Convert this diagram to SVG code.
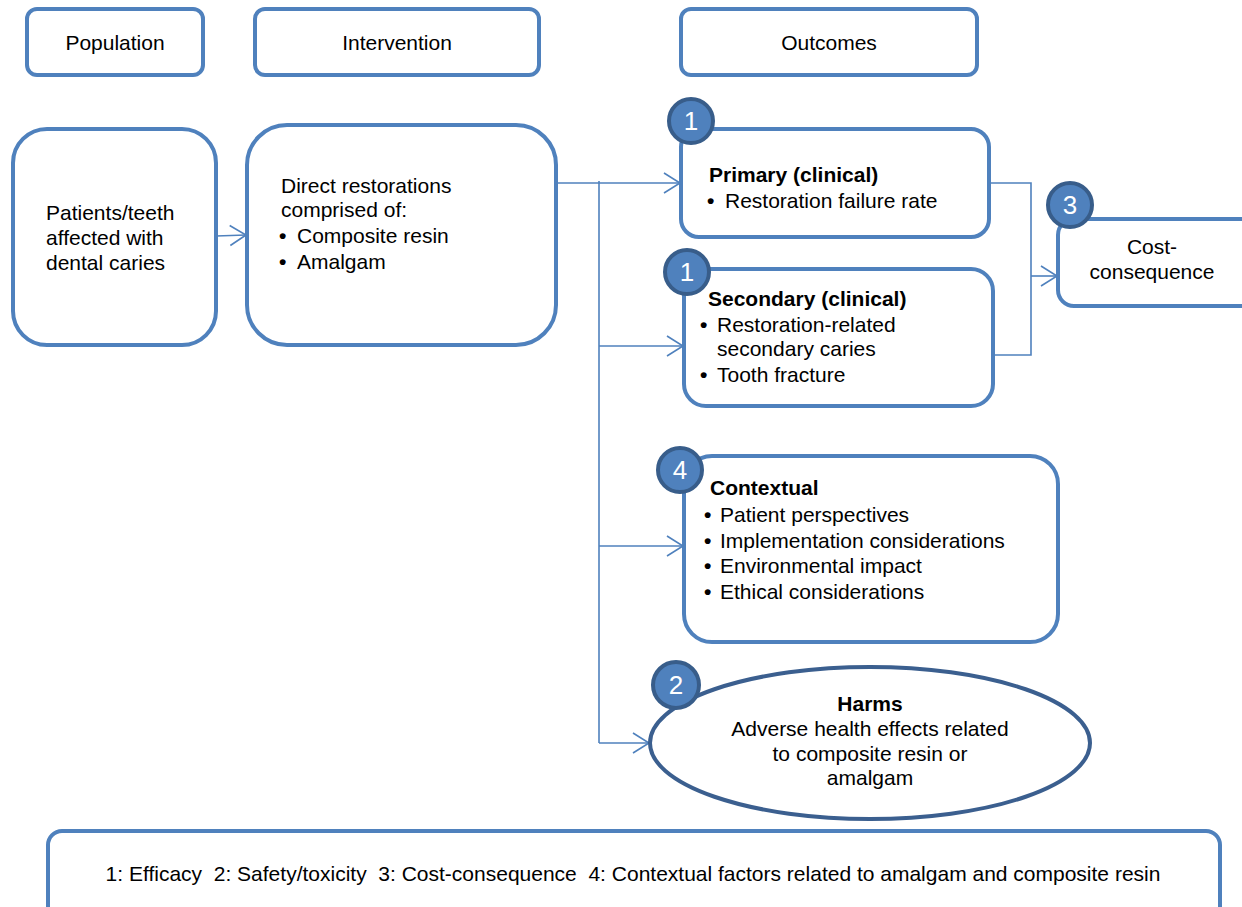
<svg xmlns="http://www.w3.org/2000/svg" width="1242" height="907" viewBox="0 0 1242 907">
<style>
.box{fill:#fff;stroke:#4F81BD;stroke-width:4}
.ell{fill:#fff;stroke:#3B5F8F;stroke-width:4}
.badge{fill:#4F81BD;stroke:#385D8A;stroke-width:4}
.bn{font-family:"Liberation Sans",Arial,sans-serif;font-size:26px;fill:#fff;text-anchor:middle}
.t{font-family:"Liberation Sans",Arial,sans-serif;font-size:21px;fill:#000}
.bu{font-family:"Liberation Sans",Arial,sans-serif;font-size:21px;font-weight:bold;fill:#000}
.b{font-weight:bold}
.c{text-anchor:middle}
.conn{fill:none;stroke:#4F81BD;stroke-width:1.6}
</style>
<defs>
<marker id="arr" markerWidth="20" markerHeight="24" refX="17" refY="12" orient="auto" markerUnits="userSpaceOnUse">
<path d="M1,2 L17,12 L1,22" fill="none" stroke="#4F81BD" stroke-width="1.6"/>
</marker>
</defs>
<rect width="1242" height="907" fill="#fff"/>

<g id="connectors">
<line class="conn" x1="216" y1="236" x2="246" y2="235" marker-end="url(#arr)"/>
<line class="conn" x1="556" y1="183" x2="680" y2="183" marker-end="url(#arr)"/>
<polyline class="conn" points="599,181 599,743"/>
<line class="conn" x1="599" y1="346" x2="683" y2="346" marker-end="url(#arr)"/>
<line class="conn" x1="599" y1="546" x2="683" y2="546" marker-end="url(#arr)"/>
<line class="conn" x1="599" y1="743" x2="649" y2="743" marker-end="url(#arr)"/>
<polyline class="conn" points="989,183 1031,183 1031,355 992,355"/>
<line class="conn" x1="1031" y1="276" x2="1057" y2="276" marker-end="url(#arr)"/>
</g>

<g id="population-header">
<rect class="box" x="27" y="9" width="176" height="66" rx="10"/>
<text class="t c" x="115" y="50">Population</text>
</g>
<g id="intervention-header">
<rect class="box" x="255" y="9" width="284" height="66" rx="10"/>
<text class="t c" x="397" y="50">Intervention</text>
</g>
<g id="outcomes-header">
<rect class="box" x="681" y="9" width="296" height="66" rx="10"/>
<text class="t c" x="829" y="50">Outcomes</text>
</g>

<g id="population">
<rect class="box" x="13" y="129" width="203" height="216" rx="34"/>
<text class="t" x="46" y="220">Patients/teeth</text>
<text class="t" x="46" y="245">affected with</text>
<text class="t" x="46" y="270">dental caries</text>
</g>

<g id="intervention">
<rect class="box" x="247" y="125" width="309" height="220" rx="40"/>
<text class="t" x="281" y="193">Direct restorations</text>
<text class="t" x="281" y="217">comprised of:</text>
<text class="bu" x="279" y="243">•</text><text class="t" x="297" y="243">Composite resin</text>
<text class="bu" x="279" y="269">•</text><text class="t" x="297" y="269">Amalgam</text>
</g>

<g id="primary">
<rect class="box" x="681" y="129" width="308" height="108" rx="18"/>
<text class="t b" x="709" y="182">Primary (clinical)</text>
<text class="bu" x="707" y="208">•</text><text class="t" x="725" y="208">Restoration failure rate</text>
<circle class="badge" cx="691" cy="121" r="22"/>
<text class="bn" x="691" y="130">1</text>
</g>

<g id="secondary">
<rect class="box" x="684" y="269" width="309" height="137" rx="22"/>
<text class="t b" x="708" y="306">Secondary (clinical)</text>
<text class="bu" x="700" y="332">•</text><text class="t" x="717" y="332">Restoration-related</text>
<text class="t" x="717" y="356">secondary caries</text>
<text class="bu" x="700" y="382">•</text><text class="t" x="717" y="382">Tooth fracture</text>
<circle class="badge" cx="687" cy="272" r="22"/>
<text class="bn" x="687" y="281">1</text>
</g>

<g id="cost">
<rect class="box" x="1058" y="219" width="200" height="87" rx="16"/>
<text class="t c" x="1152" y="254">Cost-</text>
<text class="t c" x="1152" y="279">consequence</text>
<circle class="badge" cx="1070" cy="205" r="22"/>
<text class="bn" x="1070" y="214">3</text>
</g>

<g id="contextual">
<rect class="box" x="684" y="456" width="374" height="186" rx="28"/>
<text class="t b" x="710" y="495">Contextual</text>
<text class="bu" x="704" y="522">•</text><text class="t" x="720" y="522">Patient perspectives</text>
<text class="bu" x="704" y="548">•</text><text class="t" x="720" y="548">Implementation considerations</text>
<text class="bu" x="704" y="573">•</text><text class="t" x="720" y="573">Environmental impact</text>
<text class="bu" x="704" y="599">•</text><text class="t" x="720" y="599">Ethical considerations</text>
<circle class="badge" cx="680" cy="470" r="22"/>
<text class="bn" x="680" y="479">4</text>
</g>

<g id="harms">
<ellipse class="ell" cx="870" cy="743" rx="220" ry="76"/>
<text class="t b c" x="870" y="711">Harms</text>
<text class="t c" x="870" y="736">Adverse health effects related</text>
<text class="t c" x="870" y="761">to composite resin or</text>
<text class="t c" x="870" y="785">amalgam</text>
<circle class="badge" cx="676" cy="685" r="23"/>
<text class="bn" x="676" y="694">2</text>
</g>

<g id="legend">
<rect class="box" x="48" y="831" width="1172" height="90" rx="14"/>
<text class="t c" x="633" y="881" xml:space="preserve">1: Efficacy  2: Safety/toxicity  3: Cost-consequence  4: Contextual factors related to amalgam and composite resin</text>
</g>
</svg>
